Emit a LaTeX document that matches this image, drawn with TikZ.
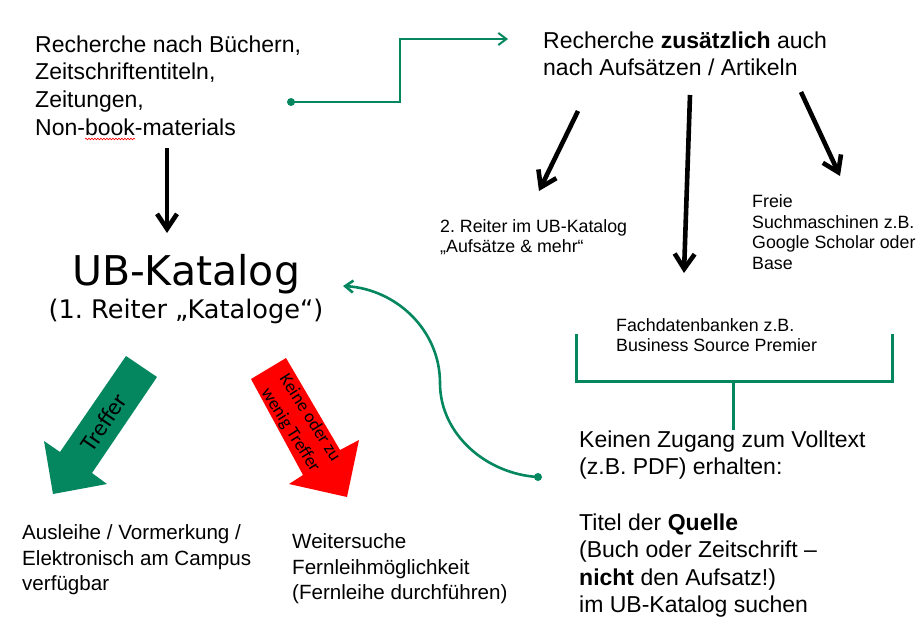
\documentclass[tikz,border=0pt]{standalone}
\usepackage{fontspec}
\setmainfont{Liberation Sans}
\newfontfamily\verdfont{DejaVu Sans}
\newfontfamily\califont{Carlito}
\usetikzlibrary{arrows.meta,decorations.pathmorphing}
\definecolor{ubgreen}{HTML}{04875F}
\definecolor{ubred}{HTML}{FF0000}
\frenchspacing
\tikzset{
  txt/.style={anchor=north west, inner sep=0pt, align=left, font=\fontsize{23}{27.6}\selectfont},
  smalltxt/.style={anchor=north west, inner sep=0pt, align=left, font=\fontsize{17.8}{20.6}\selectfont},
  midtxt/.style={anchor=north west, inner sep=0pt, align=left, font=\fontsize{20.6}{25.7}\selectfont},
  blk/.style={line width=4.6pt, -{Straight Barb[length=15pt,width=20pt]}},
  gline/.style={ubgreen, line width=2pt},
  garrow/.style={gline, -{Straight Barb[length=8pt,width=12pt]}},
  gdot/.style={circle, fill=ubgreen, inner sep=0pt, minimum size=8pt},
}
\begin{document}
\begin{tikzpicture}[x=1pt,y=-1pt]
\fill[white] (0,0) rectangle (922,629);
\useasboundingbox (0,0) rectangle (922,629);

% text blocks
\node[txt] (t1) at (35,35.5) {Recherche nach Büchern,\\Zeitschriftentiteln,\\Zeitungen,\\Non-book-materials};
\draw[ubred, line width=0.6pt, decorate, decoration={snake, amplitude=0.8pt, segment length=3pt}] (85,139) -- (135,139);
\node[txt] (t2) at (543,31.5) {Recherche \textbf{zusätzlich} auch\\nach Aufsätzen / Artikeln};
\node[smalltxt] (reiter) at (440,219.3) {2. Reiter im UB-Katalog\\„Aufsätze \& mehr“};
\node[smalltxt] (freie) at (752,194.3) {Freie\\Suchmaschinen z.B.\\Google Scholar oder\\Base};
\node[smalltxt] (fach) at (616,318.1) {Fachdatenbanken z.B.\\Business Source Premier};
\node[txt] (kz) at (579,430.4) {Keinen Zugang zum Volltext\\(z.B. PDF) erhalten:\\[27.6pt]Titel der \textbf{Quelle}\\(Buch oder Zeitschrift –\\\textbf{nicht} den Aufsatz!)\\im UB-Katalog suchen};
\node[midtxt] (aus) at (22,524.3) {Ausleihe / Vormerkung /\\Elektronisch am Campus\\verfügbar};
\node[midtxt] (weit) at (292,533.3) {Weitersuche\\Fernleihmöglichkeit\\(Fernleihe durchführen)};

\node[anchor=base, inner sep=0pt, font=\verdfont\fontsize{41}{49}\selectfont] (ub) at (186,285) {UB-Katalog};
\node[anchor=base, inner sep=0pt, font=\verdfont\fontsize{25.6}{30}\selectfont] (ubsub) at (186,318) {(1. Reiter „Kataloge“)};

% black arrows
\coordinate (a1s) at (167,148); \coordinate (a1e) at (167,233);
\coordinate (a2s) at (578,111); \coordinate (a2e) at (539,191);
\coordinate (a3s) at (690,95);  \coordinate (a3e) at (684,273);
\coordinate (a4s) at (801,92);  \coordinate (a4e) at (840,176);
\draw[blk] (a1s) -- (a1e);
\draw[blk] (a2s) -- (a2e);
\draw[blk] (a3s) -- (a3e);
\draw[blk] (a4s) -- (a4e);

% green elbow connector
\node[gdot] (d1) at (291,102) {};
\coordinate (e1) at (508,39);
\draw[garrow] (d1.center) -- (400,102) |- (e1);

% green curved connector
\node[gdot] (d2) at (538,477) {};
\coordinate (c1) at (343,286);
\draw[garrow, line width=2.6pt] (d2.center) .. controls (486,474) and (440,434) .. (440,383)
  .. controls (440,330) and (396,289) .. (c1);

% bracket
\coordinate (bl) at (576,334); \coordinate (br) at (892,334);
\coordinate (bm) at (733,381);
\draw[ubgreen, line width=3pt] (bl) |- (br |- bm) -- (br);
\draw[ubgreen, line width=3pt] (bm) -- (bm |- kz.north);

% block arrows
\fill[ubgreen] (126,356) -- (157,377) -- (92,473) -- (107,484) -- (53,494) -- (44,441) -- (60,452) -- cycle;
\node[rotate=55.7, inner sep=0pt, font=\califont\fontsize{24}{28}\selectfont] (treffer) at (103.5,422.5) {Treffer};
\fill[ubred] (286,358) -- (251,379) -- (303,475) -- (289,484) -- (347,497) -- (359,440) -- (340,450) -- cycle;
\node[rotate=-57.7, inner sep=0pt, align=center, font=\califont\fontsize{18}{23}\selectfont] (keine) at (300,424) {Keine oder zu\\wenig Treffer};
\end{tikzpicture}
\end{document}
